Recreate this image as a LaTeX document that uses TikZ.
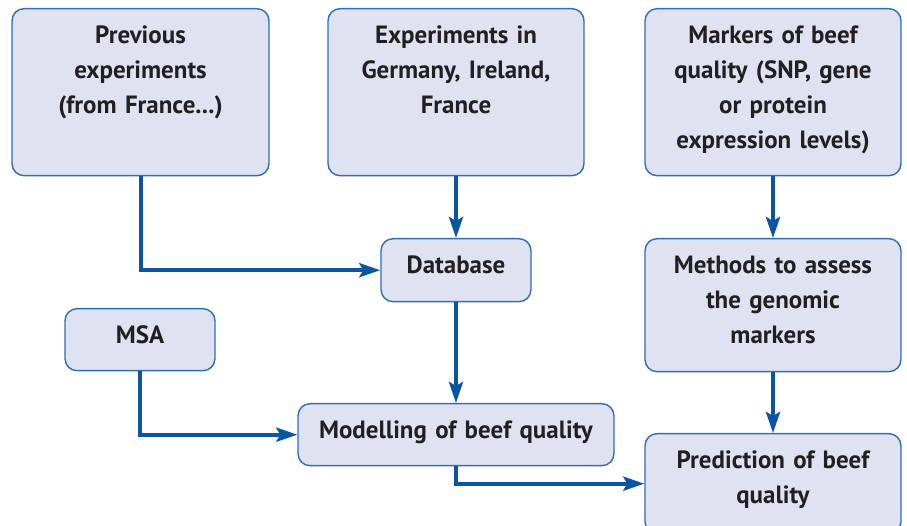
\documentclass[tikz,border=0pt]{standalone}
\usepackage{fontspec}
\setmainfont{PT Sans}
\usepackage{tikz}
\usetikzlibrary{arrows.meta}

\definecolor{boxfill}{HTML}{DFE3F1}
\definecolor{boxline}{HTML}{2F6DB5}
\definecolor{flowblue}{HTML}{0A56A5}
\definecolor{inkblack}{HTML}{231F20}

\begin{document}
\begin{tikzpicture}[x=0.02cm,y=-0.02cm]
		\useasboundingbox (0,0) rectangle (907,526);
		\begin{scope}
            [
                every node/.style={
					draw=boxline, fill=boxfill, line width=0.8pt, rounded corners=0.24cm,
					anchor=north, inner xsep=0pt, inner ysep=0pt, align=center,
					text=inkblack, font=\fontsize{14.2}{19.9}\selectfont\bfseries,
					text height=0.7cm},
				box/.style 2 args = {minimum width=#1, text width=#1, text depth=#2}
            ]
            
			\node(prev)[box={5.14cm}{2.64cm}] at (140.5,8) {Previous\\experiments\\(from France...)};
			\node(exper)[box={5.12cm}{2.64cm}] at (456,8) {Experiments in\\Germany, Ireland,\\France};
			\node(markers)[box={5.12cm}{2.64cm}] at (773,8) {Markers of beef\\quality (SNP, gene\\or protein\\expression levels)};
			
			\node(data)[box={3cm}{0.56cm}] at (456,238) {Database};
			\node(msa)[box={3cm}{0.54cm}] at (140,308) {MSA};
			\node(methods)[box={5.12cm}{1.96cm}] at (773,238) {Methods to assess\\the genomic\\markers};

			\node(model)[box={6.32cm}{0.54cm}] at (456,403) {Modelling of beef quality};
			\node(pred)[box={5.12cm}{1.3cm}] at (773,433) {Prediction of beef\\quality};

		\end{scope}
		\begin{scope}
            [>={Stealth[length=0.42cm,width=0.28cm,inset=0.08cm]},
                every path/.style={draw=flowblue, line width=0.08cm}
            ]
            \draw[->] (prev.south) |- (data.west);
            \draw[->] (exper.south) -- (data.north);
			\draw[->] (markers.south) -- (methods.north);
			\draw[->] (data.south) -- (model.north);
			\draw[->] (msa.south) |- (model.west);
			\draw[->] (methods.south) -- (pred.north);
			\draw[->] (model.south) |- (pred.west);
		\end{scope}
    \end{tikzpicture}
\end{document}
